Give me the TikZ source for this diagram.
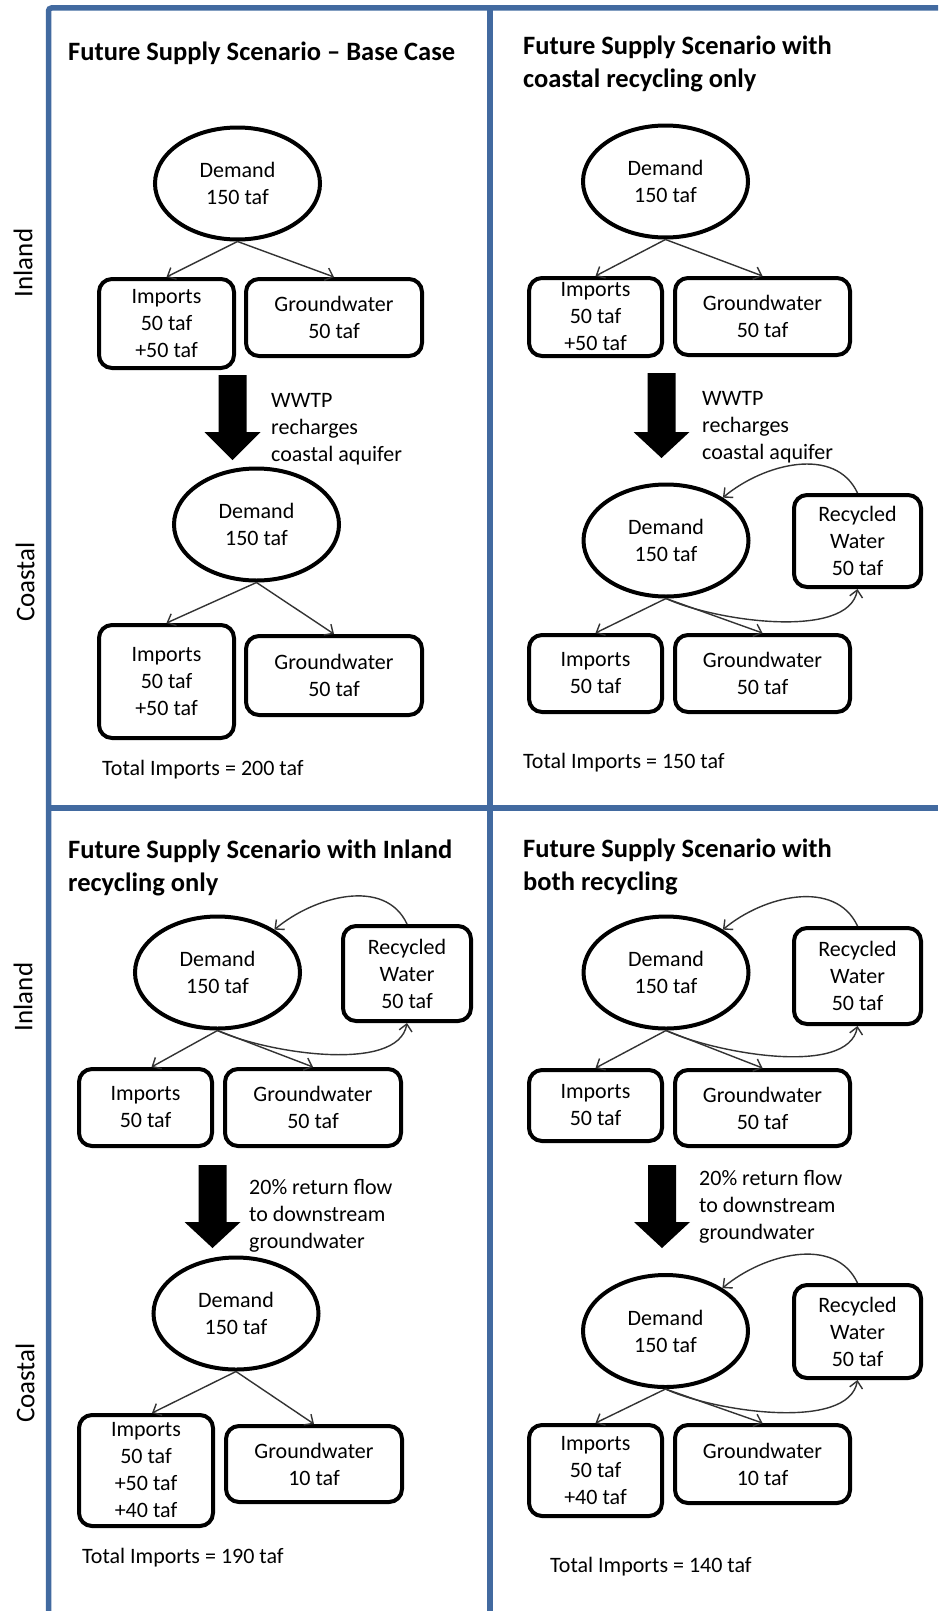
\documentclass[tikz,border=0pt]{standalone}
\usepackage{fontspec}
\setmainfont{Carlito}
\usetikzlibrary{shapes.geometric,arrows.meta,calc}
\definecolor{panelblue}{RGB}{66,106,160}
\newcommand\txtfont{\fontsize{22}{27}\selectfont}
\newcommand\ttlfont{\fontsize{26.5}{33}\selectfont\bfseries}
\newcommand\sidefont{\fontsize{27}{30}\selectfont}
% block arrow: centre x, top of shaft, start of head, tip
\newcommand\blockarrow[4]{\fill (#1-14,#2) -- (#1+14,#2) -- (#1+14,#3) -- (#1+28,#3) -- (#1,#4) -- (#1-28,#3) -- (#1-14,#3) -- cycle;}
\begin{document}
\begin{tikzpicture}[x=1pt,y=-1pt,
  demand/.style={ellipse, draw, line width=4pt, minimum width=165pt, minimum height=112pt, inner sep=0pt, align=center, font=\txtfont},
  src/.style={draw, line width=4pt, rounded corners=13pt, inner sep=0pt, align=center, font=\txtfont},
  flow/.style={draw=black!80, line width=1.4pt, -{Straight Barb[length=7pt,width=13pt]}},
  note/.style={anchor=base west, align=left, font=\txtfont, inner sep=0pt},
  heading/.style={anchor=base west, align=left, font=\ttlfont, inner sep=0pt},
  side/.style={rotate=90, font=\sidefont, inner sep=0pt},
  grid/.style={draw=panelblue, line width=5.5pt}]
\useasboundingbox (0,0) rectangle (938,1611);
\fill[white] (0,0) rectangle (938,1611);

% panel frame
\draw[grid, rounded corners=3pt] (48.5,1611) -- (48.5,8) -- (938,8);
\draw[grid] (490,8) -- (490,1611);
\draw[grid] (48.5,808) -- (938,808);

% row labels
\node[side] (l1) at (23,263) {Inland};
\node[side] (l2) at (25,582) {Coastal};
\node[side] (l3) at (23,997) {Inland};
\node[side] (l4) at (25,1383) {Coastal};

% multi-line notes and headings are placed by the baseline of their last line

% ---------- base case ----------
\node[heading] (t1) at (68,60) {Future Supply Scenario – Base Case};
\node[demand] (d1) at (237.5,183.5) {Demand\\150 taf};
\node[src, minimum width=135pt, minimum height=89pt] (i1) at (166.5,323.5) {Imports\\50 taf\\+50 taf};
\node[src, minimum width=176pt, minimum height=77pt] (g1) at (334,317.5) {Groundwater\\50 taf};
\draw[flow] (d1.south) -- (i1.north);
\draw[flow] (d1.south) -- (g1.north);
\blockarrow{232.5}{375}{432}{460}
\node[note] (n1) at (271,461) {WWTP\\recharges\\coastal aquifer};
\node[demand] (d2) at (256.5,524.5) {Demand\\150 taf};
\node[src, minimum width=135pt, minimum height=113pt] (i2) at (166.5,681.5) {Imports\\50 taf\\+50 taf};
\node[src, minimum width=176pt, minimum height=79pt] (g2) at (334,675.5) {Groundwater\\50 taf};
\draw[flow] (d2.south) -- (i2.north);
\draw[flow] (d2.south) -- (g2.north);
\node[note] (s1) at (102,775) {Total Imports = 200 taf};

% ---------- coastal recycling ----------
\node[heading] (t2) at (523,88) {Future Supply Scenario with\\coastal recycling only};
\node[demand] (d3) at (665.5,181.5) {Demand\\150 taf};
\node[src, minimum width=133pt, minimum height=78pt] (i3) at (595.5,317) {Imports\\50 taf\\+50 taf};
\node[src, minimum width=175pt, minimum height=77pt] (g3) at (762.5,316.5) {Groundwater\\50 taf};
\draw[flow] (d3.south) -- (i3.north);
\draw[flow] (d3.south) -- (g3.north);
\blockarrow{661.5}{373}{432}{458}
\node[note] (n2) at (702,459) {WWTP\\recharges\\coastal aquifer};
\node[demand] (d4) at (666,540.5) {Demand\\150 taf};
\node[src, minimum width=127pt, minimum height=92pt] (r4) at (857.5,541) {Recycled\\Water\\50 taf};
\node[src, minimum width=133pt, minimum height=77pt] (i4) at (595.5,673.5) {Imports\\50 taf};
\node[src, minimum width=175pt, minimum height=77pt] (g4) at (762.5,673.5) {Groundwater\\50 taf};
\draw[flow] (d4.south) -- (i4.north);
\draw[flow] (d4.south) -- (g4.north);
\draw[flow] (r4.north) to[out=115,in=40] (d4.37);
\draw[flow] (d4.south) to[out=-25,in=-100,looseness=0.7] (r4.south);
\node[note] (s2) at (523,768) {Total Imports = 150 taf};

% ---------- inland recycling ----------
\node[heading] (t3) at (68,891) {Future Supply Scenario with Inland\\recycling only};
\node[demand] (d5) at (217.5,972.5) {Demand\\150 taf};
\node[src, minimum width=128pt, minimum height=95pt] (r5) at (407,973.5) {Recycled\\Water\\50 taf};
\node[src, minimum width=133pt, minimum height=77pt] (i5) at (145.5,1107.5) {Imports\\50 taf};
\node[src, minimum width=176pt, minimum height=77pt] (g5) at (313,1107.5) {Groundwater\\50 taf};
\draw[flow] (d5.south) -- ($(i5.north)+(6,0)$);
\draw[flow] (d5.south) -- (g5.north);
\draw[flow] (r5.north) to[out=115,in=40] (d5.37);
\draw[flow] (d5.south) to[out=-25,in=-100,looseness=0.7] (r5.south);
\blockarrow{212.5}{1165}{1222}{1248}
\node[note] (n3) at (249,1248) {20\% return flow\\to downstream\\groundwater};
\node[demand] (d6) at (236,1313.5) {Demand\\150 taf};
\node[src, minimum width=134pt, minimum height=111pt] (i6) at (146,1470.5) {Imports\\50 taf\\+50 taf\\+40 taf};
\node[src, minimum width=176pt, minimum height=76pt] (g6) at (314,1464) {Groundwater\\10 taf};
\draw[flow] (d6.south) -- ($(i6.north)+(6,0)$);
\draw[flow] (d6.south) -- (g6.north);
\node[note] (s3) at (82,1563) {Total Imports = 190 taf};

% ---------- both recycling ----------
\node[heading] (t4) at (523,890) {Future Supply Scenario with\\both recycling};
\node[demand] (d7) at (666,972.5) {Demand\\150 taf};
\node[src, minimum width=127pt, minimum height=96pt] (r7) at (857.5,976) {Recycled\\Water\\50 taf};
\node[src, minimum width=133pt, minimum height=71pt] (i7) at (595.5,1105.5) {Imports\\50 taf};
\node[src, minimum width=175pt, minimum height=76pt] (g7) at (762.5,1108) {Groundwater\\50 taf};
\draw[flow] (d7.south) -- (i7.north);
\draw[flow] (d7.south) -- (g7.north);
\draw[flow] (r7.north) to[out=115,in=40] (d7.37);
\draw[flow] (d7.south) to[out=-25,in=-100,looseness=0.7] (r7.south);
\blockarrow{662}{1165}{1222}{1248}
\node[note] (n4) at (699,1239) {20\% return flow\\to downstream\\groundwater};
\node[demand] (d8) at (665.5,1331) {Demand\\150 taf};
\node[src, minimum width=127pt, minimum height=93pt] (r8) at (857.5,1331.5) {Recycled\\Water\\50 taf};
\node[src, minimum width=133pt, minimum height=91pt] (i8) at (595.5,1470.5) {Imports\\50 taf\\+40 taf};
\node[src, minimum width=175pt, minimum height=78pt] (g8) at (762.5,1464) {Groundwater\\10 taf};
\draw[flow] (d8.south) -- (i8.north);
\draw[flow] (d8.south) -- (g8.north);
\draw[flow] (r8.north) to[out=115,in=40] (d8.37);
\draw[flow] (d8.south) to[out=-25,in=-100,looseness=0.7] (r8.south);
\node[note] (s4) at (550,1572) {Total Imports = 140 taf};
\end{tikzpicture}
\end{document}
